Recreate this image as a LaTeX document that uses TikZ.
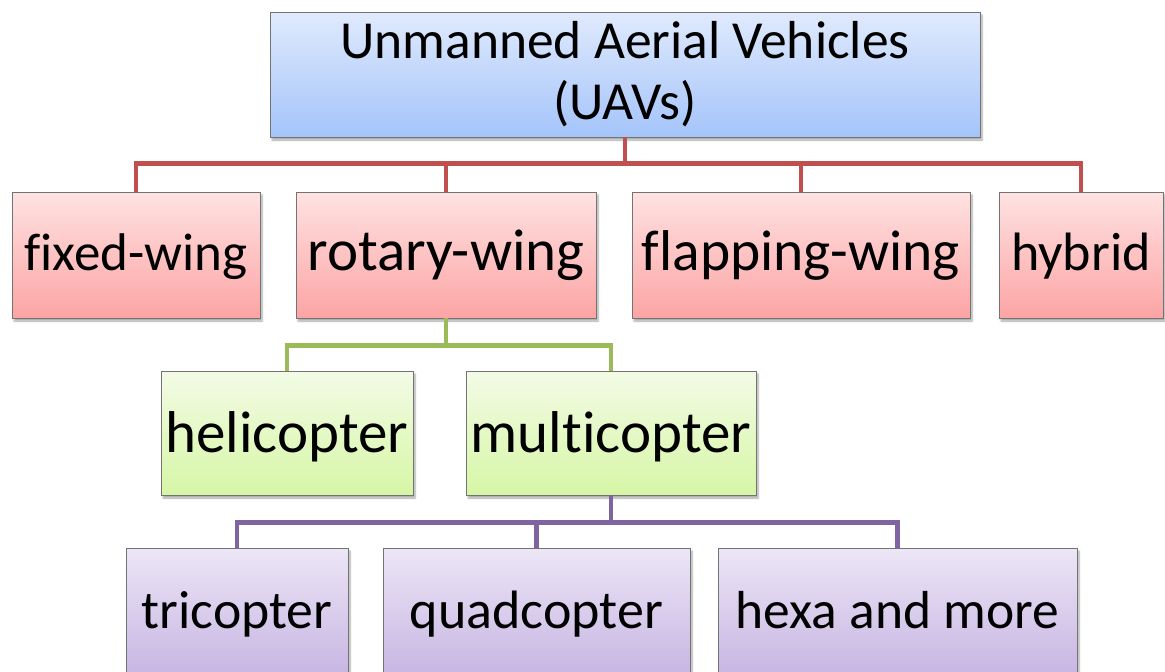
\documentclass[tikz,border=0pt]{standalone}
\usepackage{fontspec}
\setmainfont{Carlito}[Ligatures={NoCommon}]
\usetikzlibrary{shadows.blur}

\definecolor{redline}{HTML}{C0504D}
\definecolor{greenline}{HTML}{9BBB59}
\definecolor{purpleline}{HTML}{8064A2}

\tikzset{
  box/.style={draw=black!55, line width=0.8pt, rectangle, inner sep=0pt,
    blur shadow={shadow xshift=2pt, shadow yshift=-3pt, shadow blur steps=6, shadow opacity=35},
    align=center},
  fs/.style={font=\fontsize{#1}{61}\selectfont},
  leaf/.style={box, text height=43pt, text depth=12pt},
  bluebox/.style={box, top color={rgb,255:red,224;green,234;blue,253}, bottom color={rgb,255:red,164;green,196;blue,250}},
  redbox/.style={leaf, top color={rgb,255:red,255;green,226;blue,226}, bottom color={rgb,255:red,252;green,164;blue,164},
    minimum height=126pt},
  greenbox/.style={leaf, text height=46pt, text depth=8pt,
    top color={rgb,255:red,243;green,251;blue,230}, bottom color={rgb,255:red,214;green,246;blue,166},
    minimum height=124pt},
  purplebox/.style={leaf, top color={rgb,255:red,236;green,230;blue,246}, bottom color={rgb,255:red,198;green,180;blue,226},
    minimum height=130pt},
  link/.style={line width=4.3pt, line cap=butt, line join=miter},
}

\begin{document}
\begin{tikzpicture}[x=1pt, y=-1pt]
  \useasboundingbox (0,0) rectangle (1165,672);

  % root
  \node[bluebox, minimum width=710pt, minimum height=125pt, fs=53.5]
    (uav) at (625,74.5) {Unmanned Aerial Vehicles\\(UAVs)};

  % first level
  \node[redbox, minimum width=248pt, fs=53] (fixed) at (136,255) {fixed-wing};
  \node[redbox, minimum width=300pt, fs=59] (rotary) at (446,255) {rotary-wing};
  \node[redbox, minimum width=338pt, fs=57.5] (flap) at (801,255) {flapping-wing};
  \node[redbox, minimum width=164pt, fs=54] (hybrid) at (1081,255) {hybrid};

  % rotary-wing children
  \node[greenbox, minimum width=252pt, fs=59] (heli) at (287,433) {helicopter};
  \node[greenbox, minimum width=290pt, fs=59] (multi) at (611,433) {multicopter};

  % multicopter children
  \node[purplebox, minimum width=222pt, fs=53.7] (tri) at (237,613) {tricopter};
  \node[purplebox, minimum width=307pt, fs=54] (quad) at (536.5,613) {quadcopter};
  \node[purplebox, minimum width=359pt, fs=53.5] (hexa) at (897.5,613) {hexa and more};

  % connectors
  \draw[link, redline] (uav.south) -- ++(0,26) coordinate (rbus);
  \draw[link, redline] (rbus) -| (fixed.north);
  \draw[link, redline] (rbus) -| (rotary.north);
  \draw[link, redline] (rbus) -| (flap.north);
  \draw[link, redline] (rbus) -| (hybrid.north);

  \draw[link, greenline] (rotary.south) -- ++(0,27) coordinate (gbus);
  \draw[link, greenline] (gbus) -| (heli.north);
  \draw[link, greenline] (gbus) -| (multi.north);

  \draw[link, purpleline] (multi.south) -- ++(0,27) coordinate (pbus);
  \draw[link, purpleline] (pbus) -| (tri.north);
  \draw[link, purpleline] (pbus) -| (quad.north);
  \draw[link, purpleline] (pbus) -| (hexa.north);
\end{tikzpicture}
\end{document}
